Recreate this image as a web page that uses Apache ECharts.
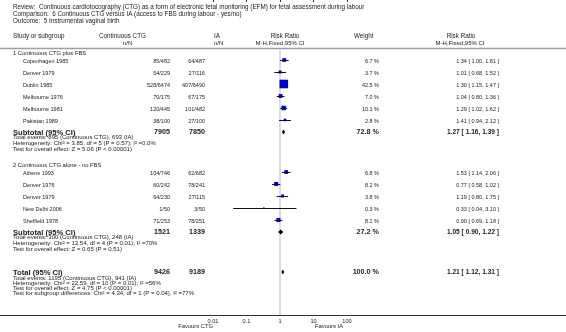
<!DOCTYPE html>
<html>
<head>
<meta charset="utf-8">
<script src="https://cdn.jsdelivr.net/npm/echarts@6/dist/echarts.min.js"></script>
<style>
html, body { margin: 0; padding: 0; background: #fff; }
#chart { width: 566px; height: 332px; }
</style>
</head>
<body>
<div id="chart"></div>
<script>
// header text
var titleLines = [
	"Review:  Continuous cardiotocography (CTG) as a form of electronic fetal monitoring (EFM) for fetal assessment during labour",
	"Comparison:  6 Continuous CTG versus IA (access to FBS during labour - yes/no)",
	"Outcome:  5 Instrumental vaginal birth"
]
var tickLabels = ["0.01", "0.1", "1", "10", "100"]

// subgroup 1
var g1Title = "1 Continuous CTG plus FBS"
var g1Names = ["Copenhagen 1985", "Denver 1979", "Dublin 1985", "Melbourne 1976", "Melbourne 1981", "Pakistan 1989"]
var g1Ctg = ["85/482", "54/229", "528/6474", "70/175", "120/445", "38/100"]
var g1Ia = ["64/487", "27/116", "407/6490", "67/175", "101/482", "27/100"]
var g1Weight = [6.7, 3.7, 42.5, 7.0, 10.1, 2.8]
var g1Rr = [1.34, 1.01, 1.30, 1.04, 1.29, 1.41]
var g1Lo = [1.00, 0.68, 1.15, 0.80, 1.02, 0.94]
var g1Hi = [1.81, 1.52, 1.47, 1.36, 1.62, 2.12]
var g1Sub = { ctg: 7905, ia: 7850, weight: 72.8, rr: 1.27, lo: 1.16, hi: 1.39 }
var g1Stats = [
	"Total events: 895 (Continuous CTG), 693 (IA)",
	"Heterogeneity: Chi\u00b2 = 3.85, df = 5 (P = 0.57); I\u00b2 =0.0%",
	"Test for overall effect: Z = 5.06 (P < 0.00001)"
]

// subgroup 2
var g2Title = "2 Continuous CTG alone - no FBS"
var g2Names = ["Athens 1993", "Denver 1976", "Denver 1979", "New Delhi 2006", "Sheffield 1978"]
var g2Ctg = ["104/746", "60/242", "64/230", "1/50", "71/253"]
var g2Ia = ["62/682", "78/241", "27/115", "3/50", "78/251"]
var g2Weight = [6.8, 8.2, 3.8, 0.3, 8.2]
var g2Rr = [1.53, 0.77, 1.19, 0.33, 0.90]
var g2Lo = [1.14, 0.58, 0.80, 0.04, 0.69]
var g2Hi = [2.06, 1.02, 1.75, 3.10, 1.18]
var g2Sub = { ctg: 1521, ia: 1339, weight: 27.2, rr: 1.05, lo: 0.90, hi: 1.22 }
var g2Stats = [
	"Total events: 300 (Continuous CTG), 248 (IA)",
	"Heterogeneity: Chi\u00b2 = 13.54, df = 4 (P = 0.01); I\u00b2 =70%",
	"Test for overall effect: Z = 0.65 (P = 0.51)"
]

// overall
var totalRow = { ctg: 9426, ia: 9189, weight: 100.0, rr: 1.21, lo: 1.12, hi: 1.31 }
var totalStats = [
	"Total events: 1195 (Continuous CTG), 941 (IA)",
	"Heterogeneity: Chi\u00b2 = 22.59, df = 10 (P = 0.01); I\u00b2 =56%",
	"Test for overall effect: Z = 4.75 (P < 0.00001)",
	"Test for subgroup differences: Chi\u00b2 = 4.34, df = 1 (P = 0.04), I\u00b2 =77%"
]

// layout (pixels)
var FONT = '"Liberation Sans", Arial, Helvetica, sans-serif'
var ROW = 12
var firstRow = 60
var groupGap = 40
var headerLineY = 48.5
var axisY = 315
var col = { name: 23, group: 13, ctg: 170, ia: 205, weight: 379, rr: 499 }

var g = []
function text(x, y, s, size, opt) {
	opt = opt || {}
	g.push({
		type: "text",
		x: x,
		y: y,
		silent: true,
		style: {
			text: s,
			fill: opt.color || "#1a1a1a",
			font: (opt.bold ? "bold " : "") + size + "px " + FONT,
			align: opt.align || "left",
			verticalAlign: "middle"
		}
	})
}
function hline(y, x1, x2, color, w) {
	g.push({
		type: "line",
		silent: true,
		shape: { x1: x1, y1: y, x2: x2, y2: y },
		style: { stroke: color, lineWidth: w }
	})
}
function fmtCi(rr, lo, hi) {
	return rr.toFixed(2) + " [ " + lo.toFixed(2) + ", " + hi.toFixed(2) + " ]"
}

// title + column headers
titleLines.forEach(function(t, i) {
	text(13, 7 + i * 7, t, 6.3)
})
text(13, 36.5, "Study or subgroup", 6.3)
text(99, 36.5, "Continuous CTG", 6.3)
text(123, 43, "n/N", 6)
text(214, 36.5, "IA", 6.3)
text(214, 43, "n/N", 6)
text(285, 36.5, "Risk Ratio", 6.3, { align: "center" })
text(280, 43, "M-H,Fixed,95% CI", 6, { align: "center" })
text(354, 36.5, "Weight", 6.3)
text(461, 36.5, "Risk Ratio", 6.3, { align: "center" })
text(460, 43, "M-H,Fixed,95% CI", 6, { align: "center" })
hline(headerLineY, 0, 566, "#a0a0a0", 1.5)

var studyData = []
var diamondData = []

function drawGroup(y0, title, names, ctg, ia, w, rr, lo, hi, sub, stats) {
	text(col.group, y0 - 6.5, title, 5.8)
	names.forEach(function(n, i) {
		var y = y0 + i * ROW
		text(col.name, y + 1.5, n, 5.5)
		text(col.ctg, y + 1.5, ctg[i], 5.5, { align: "right" })
		text(col.ia, y + 1.5, ia[i], 5.5, { align: "right" })
		text(col.weight, y + 1.5, w[i].toFixed(1) + " %", 5.5, { align: "right" })
		text(col.rr, y + 1.5, fmtCi(rr[i], lo[i], hi[i]), 5.5, { align: "right" })
		studyData.push([rr[i], lo[i], hi[i], y, w[i]])
	})
	var ys = y0 + names.length * ROW
	text(col.group, ys + 0.5, "Subtotal (95% CI)", 7.6, { bold: true })
	text(col.ctg, ys + 0.5, String(sub.ctg), 7.2, { bold: true, align: "right" })
	text(col.ia, ys + 0.5, String(sub.ia), 7.2, { bold: true, align: "right" })
	text(col.weight, ys + 0.5, sub.weight.toFixed(1) + " %", 7.2, { bold: true, align: "right" })
	text(col.rr, ys + 0.5, fmtCi(sub.rr, sub.lo, sub.hi), 6.6, { bold: true, align: "right" })
	diamondData.push([sub.rr, sub.lo, sub.hi, ys])
	stats.forEach(function(s, i) {
		text(col.group, ys + 5.8 + i * 6, s, 6)
	})
	return ys
}

var s1 = drawGroup(firstRow, g1Title, g1Names, g1Ctg, g1Ia, g1Weight, g1Rr, g1Lo, g1Hi, g1Sub, g1Stats)
var s2 = drawGroup(s1 + groupGap, g2Title, g2Names, g2Ctg, g2Ia, g2Weight, g2Rr, g2Lo, g2Hi, g2Sub, g2Stats)

var yt = s2 + groupGap
text(col.group, yt + 0.5, "Total (95% CI)", 7.6, { bold: true })
text(col.ctg, yt + 0.5, String(totalRow.ctg), 7.2, { bold: true, align: "right" })
text(col.ia, yt + 0.5, String(totalRow.ia), 7.2, { bold: true, align: "right" })
text(col.weight, yt + 0.5, totalRow.weight.toFixed(1) + " %", 7.2, { bold: true, align: "right" })
text(col.rr, yt + 0.5, fmtCi(totalRow.rr, totalRow.lo, totalRow.hi), 6.6, { bold: true, align: "right" })
diamondData.push([totalRow.rr, totalRow.lo, totalRow.hi, yt])
totalStats.forEach(function(s, i) {
	text(col.group, yt + 6 + i * 5, s, 6)
})

// bottom axis line + favours labels
hline(axisY + 0.5, 0, 566, "#333", 1)
text(213, axisY + 11, "Favours CTG", 5.8, { align: "right" })
text(315, axisY + 11, "Favours IA", 5.8)

var chart = echarts.init(document.getElementById("chart"), null, { renderer: "canvas" })
chart.setOption({
	animation: false,
	grid: { left: 213, right: 566 - 347, top: 0, bottom: 332 - axisY },
	xAxis: {
		type: "log",
		logBase: 10,
		min: 0.01,
		max: 100,
		axisLine: { show: false },
		axisTick: { show: true, length: 2, lineStyle: { color: "#333" } },
		splitLine: { show: false },
		axisLabel: {
			fontSize: 5.6,
			fontFamily: FONT,
			color: "#1a1a1a",
			margin: 3,
			formatter: function(v) {
				var i = Math.round(Math.log10(v)) + 2
				return tickLabels[i] || ""
			}
		}
	},
	yAxis: { type: "value", min: 0, max: axisY, inverse: true, show: false },
	graphic: g,
	series: [
		{
			// line of no effect
			type: "line",
			z: 1,
			silent: true,
			showSymbol: false,
			data: [[1, headerLineY + 1], [1, axisY]],
			lineStyle: { color: "#dcdcdc", width: 2 }
		},
		{
			type: "custom",
			z: 3,
			silent: true,
			data: studyData,
			encode: { x: [0, 1, 2], y: 3 },
			renderItem: function(params, api) {
				var y = api.value(3)
				var c = api.coord([api.value(0), y])
				var a = api.coord([api.value(1), y])
				var b = api.coord([api.value(2), y])
				var s = 8 * Math.sqrt(api.value(4) / 42.5) + 0.6
				return {
					type: "group",
					children: [
						{
							type: "rect",
							shape: { x: c[0] - s / 2, y: c[1] - s / 2, width: s, height: s },
							style: { fill: "#0000c8" }
						},
						{
							type: "line",
							shape: { x1: a[0], y1: c[1] + 0.5, x2: b[0], y2: c[1] + 0.5 },
							style: { stroke: "#111", lineWidth: 1 }
						}
					]
				}
			}
		},
		{
			type: "custom",
			z: 3,
			silent: true,
			data: diamondData,
			encode: { x: [0, 1, 2], y: 3 },
			renderItem: function(params, api) {
				var y = api.value(3)
				var c = api.coord([api.value(0), y])
				var a = api.coord([api.value(1), y])
				var b = api.coord([api.value(2), y])
				var h = 2.6
				return {
					type: "polygon",
					shape: { points: [[a[0] - 0.3, c[1]], [c[0], c[1] - h], [b[0] + 0.3, c[1]], [c[0], c[1] + h]] },
					style: { fill: "#000" }
				}
			}
		}
	]
})
</script>
</body>
</html>
